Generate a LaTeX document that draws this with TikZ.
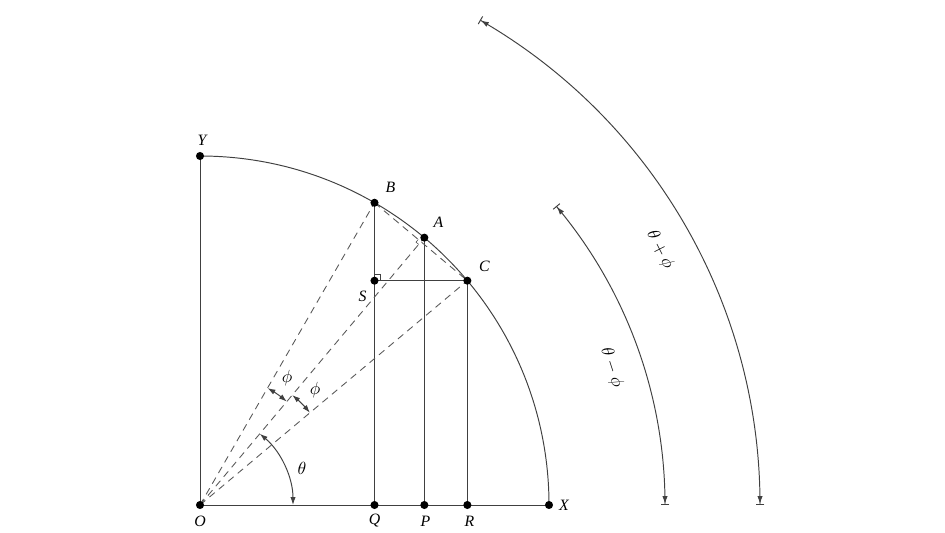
\documentclass[tikz,border=0pt]{standalone}
\usepackage{fontspec}
\setmainfont{Liberation Serif}
\usetikzlibrary{arrows.meta,calc}
\begin{document}
\begin{tikzpicture}[x=0.02cm,y=0.02cm,
  ln/.style={draw=black!75,line width=0.55pt},
  dsh/.style={draw=black!65,line width=0.5pt,dash pattern=on 4pt off 3pt},
  dot/.style={circle,fill=black,inner sep=0pt,minimum size=4.6pt},
  lbl/.style={font=\itshape\small,inner sep=1pt},
  glbl/.style={font=\normalsize,inner sep=1pt},
  angarr/.style={ln,{Latex[length=4.5pt,width=3pt]}-{Latex[length=4.5pt,width=3pt]}},
  bigarr/.style={ln,{Bar[width=5pt]Latex[length=4.5pt,width=3pt,sep=0pt]}-{Latex[length=4.5pt,width=3pt,sep=0pt]Bar[width=5pt]}}]
\path[use as bounding box] (-200,-27) rectangle (745,505);
% points
\coordinate (O) at (0,0);
\coordinate (X) at (349,0);
\coordinate (Y) at (0,349);
\coordinate (B) at (60:349);
\coordinate (A) at (50:349);
\coordinate (C) at (40:349);
\coordinate (Q) at (B|-O);
\coordinate (P) at (A|-O);
\coordinate (R) at (C|-O);
\coordinate (S) at (B|-C);
\coordinate (M) at (50:{349*cos(10)});
% axes and quarter circle
\draw[ln] (Y) -- (O) -- (X);
\draw[ln] (X) arc[start angle=0,end angle=90,radius=349];
% verticals and horizontal
\draw[ln] (B) -- (Q);
\draw[ln] (A) -- (P);
\draw[ln] (C) -- (R);
\draw[ln] (S) -- (C);
% dashed
\draw[dsh] (O) -- (B);
\draw[dsh] (O) -- (A);
\draw[dsh] (O) -- (C);
\draw[dsh] (B) -- (C);
% right angle marks
\draw[ln,line width=0.4pt] ($(S)+(0,6)$) -- ++(6,0) -- ++(0,-6);
\draw[ln,line width=0.3pt] ($(M)+(230:3.5)$) -- ++(140:3.5) -- ++(50:3.5);
% angle arcs
\draw[angarr] (0:93) arc[start angle=0,end angle=50,radius=93];
\draw[angarr] (50:135) arc[start angle=50,end angle=60,radius=135];
\draw[angarr] (40:143.5) arc[start angle=40,end angle=50,radius=143.5];
\node[glbl] (th) at (102,37) {$\theta$};
\node[glbl] (ph1) at (87,127) {$\phi$};
\node[glbl] (ph2) at (115,115) {$\phi$};
% outer arcs
\draw[bigarr] (60:560) arc[start angle=60,end angle=0,radius=560];
\draw[bigarr] (40:465) arc[start angle=40,end angle=0,radius=465];
\node[glbl,rotate=-63] (tp) at (29:526) {$\theta+\phi$};
\node[glbl,rotate=-72] (tm) at (18.5:434) {$\theta-\phi$};
% dots
\foreach \p in {O,X,Y,B,A,C,Q,P,R,S} \node[dot] (d\p) at (\p) {};
% labels
\node[lbl] (lO) at ($(O)+(0,-16)$) {O};
\node[lbl] (lQ) at ($(Q)+(0,-16)$) {Q};
\node[lbl] (lP) at ($(P)+(1,-16)$) {P};
\node[lbl] (lR) at ($(R)+(2,-16)$) {R};
\node[lbl] (lX) at ($(X)+(15,0)$) {X};
\node[lbl] (lY) at ($(Y)+(2,16)$) {Y};
\node[lbl] (lB) at ($(B)+(16,15)$) {B};
\node[lbl] (lA) at ($(A)+(14,15)$) {A};
\node[lbl] (lC) at ($(C)+(17,14)$) {C};
\node[lbl] (lS) at ($(S)+(-12,-16)$) {S};
\end{tikzpicture}
\end{document}
